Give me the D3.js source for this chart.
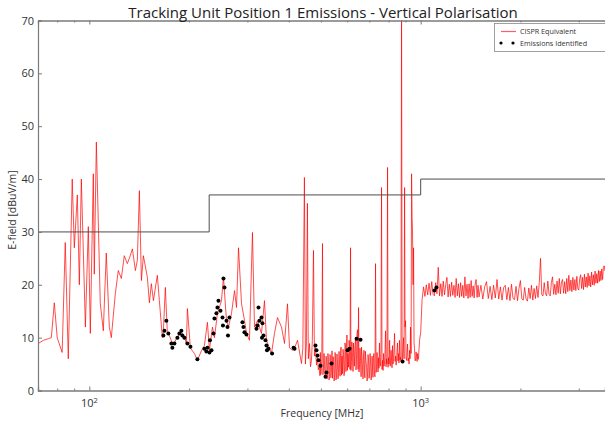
<!DOCTYPE html>
<html><head><meta charset="utf-8">
<script src="https://cdn.jsdelivr.net/npm/d3@7"></script>
<style>body{margin:0;background:#fff}svg{display:block}</style>
</head><body><svg id="c" width="605" height="425"></svg>
<script>
// ---- data ----
const titleText = "Tracking Unit Position 1 Emissions - Vertical Polarisation";
const xLabelText = "Frequency [MHz]";
const yLabelText = "E-field [dBuV/m]";
const legendLabels = ["CISPR Equivalent", "Emissions Identified"];

// sweep 70-491 MHz: frequency [MHz] / level [dBuV/m]
const lfFreq = [70.2,72.7,75.2,76.8,78.4,80.0,82.8,84.6,86.4,88.8,90.1,92.0,93.3,94.6,97.3,99.3,100.7,102.8,103.5,105.0,
  107.9,110.2,112.5,114.9,116.5,119.8,122.3,124.9,127.5,130.2,132.1,134.9,137.7,139.6,141.6,143.6,145.6,149.7,151.8,153.9,
  156.1,160.4,162.7,166.1,167.3,169.6,172.0,174.4,178.1,180.6,184.4,189.6,193.6,196.3,197.7,201.9,207.6,211.9,217.9,222.5,
  227.2,230.4,235.3,238.6,243.6,250.5,254.0,259.4,263.0,268.6,274.3,278.1,282.0,288.0,294.1,298.2,304.3,310.7,315.1,321.7,
  330.8,337.8,342.5,349.7,354.6,362.1,369.7,380.2,388.2,396.4,401.9,410.4,416.2,424.9,436.8,441,445.8,449.0,452,455.2,
  458,461.8,465,468.2,471,474.8,478,481.4,485,488.2,491];
const lfLevel = [8.9,9.5,9.8,10.0,16.6,10.0,7.2,28,6,40,27,37,20,40,12,31,10.8,41,22,47,
  16.5,11.3,26,12,10,18.3,22.7,21.2,25.5,24,25,26.8,22.7,24.6,37.8,20.8,25.5,21.4,16.6,20.2,
  17,21.8,17,10,11.3,19.5,10.8,10.4,8.9,9,10.2,11,10.2,8.9,15.5,8,7,5.7,7.5,8.5,
  12.9,7.6,12,10,14.6,17,21.4,13.2,12,14.6,18.9,15.7,27,16.4,13.2,10.8,9.5,29.9,12,13.2,
  10.8,17,9.5,8,7,10.8,13.8,12,8.9,16.4,8.1,7.6,8,9.5,5.1,8.0,40.3,5.0,9.0,35.4,
  6.0,8.9,4.5,5.7,9.5,26.5,6.5,8.1,4.8,6.2,3.9];

// sweep 495-993 MHz
const midFreq = [495.1,496.5,498,499.5,501,503,505.5,507,509,511,512.6,514,516,518,520,522,523.4,525,527,529,
  531,532.5,534,536,538.3,540,542,544,546,548,550,551.5,553,555,557.2,559,561,563,565,567,
  569.0,571,573,575,577,579,581.0,583,585,587,589,591,593,595,597.4,599,601,603,605.8,608,
  610,612,614.3,616,618,620,622.9,625,627,629,631,633.5,636.1,638,640,642.5,645,647,649.4,651.5,
  654,656,658.5,661,663,665.5,667.7,670,672,674.5,677,679,681,684,686.6,689,691,693.5,696,698.5,
  701.0,703.5,706,708.5,711,713.5,715.7,718,720,722.5,725,728,730.8,733.5,736,738.5,741.0,743.5,746.2,748.5,
  751,753.5,756,759,761.9,764.5,767.2,770,772.6,775,778,781,783.4,786,788,791,794.4,797,800.0,803,
  806,808.5,811,814,816.8,819.5,822,825,828,831,834.0,837,840,843,845.7,848.5,851,854,857.6,860,
  863,866,869,872,875.7,879,881.8,885,888,891,894.2,897,900.4,903.5,906.7,910,913,916,919,922.5,
  925.8,929,932,935.5,938.8,942,945,948.5,951.9,955,958,961.5,965.3,968.5,972,975.5,978.8,982,985,988.5,
  992.5];
const midLevel = [5.1,2.8,7.2,3.0,3.6,6.0,27.8,3.0,4.2,7.0,5.0,2.4,2.8,6.5,6.0,2.2,3.2,7.0,5.5,2.0,
  2.6,6.8,6.3,2.4,4.4,7.5,2.3,6.4,5.8,1.8,3.0,7.2,6.5,2.0,2.5,6.9,5.2,2.2,3.4,7.4,
  5.1,2.7,7.0,8.2,2.9,6.5,3.2,7.8,6.8,2.8,3.5,9.0,8.4,3.6,7.6,10.5,3.8,7.0,4.4,9.5,
  8.8,4.0,27,3.8,5.5,9.2,6.2,3.6,9.0,7.0,4.6,8.5,10,3.9,5.8,10.8,11.5,4.0,15.7,3.5,
  4.9,8.0,5.7,2.6,8.2,6.4,3.8,2.2,6.5,7.6,3.0,2.4,7.4,5.6,4.4,1.8,2.6,6.8,6.0,2.3,
  3.2,7.0,5.4,2.0,2.8,6.5,3.8,2.5,6.2,7.0,3.3,2.6,24,3.4,4.0,7.2,5.1,3.5,6.2,4.2,
  9.0,5.0,4.6,7.5,38.4,4.0,5.7,3.8,7,4.6,5.2,7.8,11.3,4.5,6.0,5.0,42.2,4.4,6.2,5.0,
  9.5,4.6,4.8,7.6,5.7,4.3,8.5,5.0,6.0,8.0,10.8,5.5,6.5,4.8,5.7,7.8,9.0,5.6,7,5.2,
  9.5,5.8,6.3,5.5,75,5.6,6.2,8.4,10.0,6.0,38.4,12,13.2,6.0,5.7,7.2,8.8,5.6,6.1,5.0,
  7.6,6.0,12.0,7.0,41,33,30,20,27,9.0,8.0,5.6,5.7,7.3,6.5,5.5,7,6.0,5.9,7.8,
  9.5];

// sweep above 1 GHz
const hfFreq = [1000,1010,1020,1030,1040,1050,1060,1070,1080,1090,1100,1110,1120,1130,1140,1150,1160,1170,1180,1190,
  1200,1210,1220,1230,1240,1250,1260,1270,1280,1290,1300,1310,1320,1330,1340,1350,1360,1370,1380,1390,
  1400,1410,1420,1430,1440,1450,1460,1470,1480,1490,1500,
  1520,1540,1560,1580,1600,1620,1640,1660,1680,1700,1720,1740,1760,1780,1800,1820,1840,1860,1880,1900,
  1920,1940,1960,1980,2000,2020,2040,2060,2080,2100,2120,2140,2160,2180,2200,2220,2240,2260,2280,2300,
  2320,2340,2360,2380,2400,2420,2440,2460,2480,2500,2520,2540,2560,2580,2600,2620,2640,2660,2680,2700,
  2720,2740,2760,2780,2800,2820,2840,2860,2880,2900,2920,2940,2960,2980,3000,3020,3040,3060,3080,3100,
  3120,3140,3160,3180,3200,3220,3240,3260,3280,3300,3320,3340,3360,3380,3400,3420,3440,3460,3480,3500,
  3520,3540,3560,3580,3600];
const hfLevel = [11.0,17.2,19.6,17.8,20.0,18.1,20.3,18.0,20.6,18.2,17.9,20.4,18.3,23.3,17.9,20.2,17.8,20.7,18.1,20.0,
  21.4,17.7,20.1,17.8,20.5,18.0,19.9,17.6,21.2,17.9,20.2,17.6,20.4,17.8,19.9,17.5,21.5,17.9,20.1,17.4,
  20.2,17.6,20.8,17.8,19.8,17.5,20.1,21.0,17.6,19.9,17.7,
  19.9,17.3,19.6,20.6,17.4,19.7,17.2,19.9,17.5,21.0,17.3,19.6,17.1,19.5,19.9,17.2,19.5,17.0,20.1,17.4,
  17.2,19.7,17.0,19.3,20.8,17.3,17.1,19.5,17.3,16.9,19.4,17.4,19.9,17.1,19.3,17.4,19.8,17.6,20.4,25.0,
  18.1,17.9,20.4,18.3,17.9,20.7,18.2,17.9,20.4,21.5,18.2,20.1,18.1,20.7,18.4,21.2,18.3,20.5,21.0,18.4,
  20.6,18.3,21.2,18.7,21.8,18.9,20.9,18.7,21.4,19.0,21.0,18.9,21.6,19.3,19.0,21.2,21.9,19.3,21.4,19.1,
  22.0,19.6,21.5,19.5,22.2,19.8,21.7,19.6,22.4,20.0,21.9,19.9,22.6,20.3,22.1,20.3,22.7,20.6,22.6,20.8,
  23.0,21.0,23.3,23.6,22.6];

// emissions identified (markers)
const emissionFreq = [167.3,168.5,170.8,173.2,176.9,178.1,180.6,184.4,187.0,189.6,190.9,193.6,197.7,201.9,211.9,222.5,225.6,227.2,230.4,233.7,
  231.2,237.0,238.6,241.9,243.6,245.3,248.8,252.3,253.1,254.0,255.8,259.4,261.2,262.1,264.8,289.8,291.8,293.9,298.0,319.5,
  321.7,324.0,326.2,330.8,333.1,332.0,335.4,340.1,342.5,343.7,347.3,356.1,413.3,416.2,481.4,484.8,488.2,491.6,498.5,516.2,
  519.8,538.3,601.6,610.0,640.5,658.5,881.8,1100,1116];
const emissionLevel = [10.4,11.3,13.2,10.8,8.9,8.1,8.9,10.0,10.8,11.3,10.4,10.0,8.9,8.3,5.9,7.9,7.4,8.1,7.2,7.6,
  9.5,10.8,13.6,14.6,15.7,17.0,15.1,13.8,12.3,21.2,19.5,13.2,12.0,10.4,13.8,12.9,12.0,11.0,10.6,11.7,
  12.3,15.7,13.2,13.8,12.7,10.0,10.4,9.5,8.5,7.6,7.9,7.0,8.1,7.9,8.5,7.6,6.6,5.7,4.7,2.6,
  3.4,5.1,7.6,7.9,9.8,9.6,5.5,18.9,19.5];

// limit line (step)
const limitFreq = [70,230,230,1000,1000,3600];
const limitLevel = [30,30,37,37,40,40];

const yTicks = [0,10,20,30,40,50,60,70];
const xMajorTicks = [100,1000];
const xMinorTicks = [70,80,90,200,300,400,500,600,700,800,900,2000,3000];

// ---- drawing ----
const svg = d3.select("#c");
const m = {l:38, r:0, t:20.5, b:34.5};
const W = 605, H = 425;
const x = d3.scaleLog().domain([70,3600]).range([m.l, W - m.r]);
const y = d3.scaleLinear().domain([0,70]).range([H - m.b, m.t]);
const font = "'Open Sans', 'DejaVu Sans', sans-serif";

svg.append("rect").attr("width",W).attr("height",H).attr("fill","#fff");
svg.append("defs").append("clipPath").attr("id","clip")
  .append("rect").attr("x",m.l).attr("y",m.t).attr("width",W-m.r-m.l).attr("height",H-m.b-m.t);

const plot = svg.append("g").attr("clip-path","url(#clip)");

const traceF = lfFreq.concat(midFreq, hfFreq), traceL = lfLevel.concat(midLevel, hfLevel);
const trace = traceF.map((f,i)=>[f,traceL[i]]);
const line = d3.line().x(d=>x(d[0])).y(d=>y(d[1]));
plot.append("path").datum(trace).attr("d",line)
  .attr("fill","none").attr("stroke","#ff0000").attr("stroke-width",0.7).attr("stroke-linejoin","miter");

const limit = limitFreq.map((f,i)=>[f,limitLevel[i]]);
plot.append("path").datum(limit).attr("d",line)
  .attr("fill","none").attr("stroke","#4d4d4d").attr("stroke-width",1);

plot.selectAll("circle.em").data(emissionFreq.map((f,i)=>[f,emissionLevel[i]])).enter()
  .append("circle").attr("class","em").attr("cx",d=>x(d[0])).attr("cy",d=>y(d[1])).attr("r",2).attr("fill","#000");

// axes frame
const axCol = "#7a7a7a";
const xAxisB = d3.axisBottom(x).tickValues(xMajorTicks).tickSize(-4).tickFormat("");
const xAxisBm = d3.axisBottom(x).tickValues(xMinorTicks).tickSize(-2).tickFormat("");
const xAxisT = d3.axisTop(x).tickValues(xMajorTicks).tickSize(-4).tickFormat("");
const xAxisTm = d3.axisTop(x).tickValues(xMinorTicks).tickSize(-2).tickFormat("");
const yAxisL = d3.axisLeft(y).tickValues(yTicks).tickSize(-4).tickFormat("");

function styleAx(g){ g.select(".domain").attr("stroke",axCol).attr("stroke-width",1.2); g.selectAll(".tick line").attr("stroke",axCol); }
svg.append("g").attr("transform",`translate(0,${H-m.b})`).call(xAxisB).call(styleAx);
svg.append("g").attr("transform",`translate(0,${H-m.b})`).call(xAxisBm).call(styleAx);
svg.append("g").attr("transform",`translate(0,${m.t})`).call(xAxisT).call(styleAx);
svg.append("g").attr("transform",`translate(0,${m.t})`).call(xAxisTm).call(styleAx);
svg.append("g").attr("transform",`translate(${m.l},0)`).call(yAxisL).call(styleAx);

// tick labels
const txtCol = "#333";
svg.append("g").selectAll("text").data(yTicks).enter().append("text")
  .attr("x",m.l-4).attr("y",d=>y(d)+4).attr("text-anchor","end")
  .attr("font-family",font).attr("font-size",11).attr("fill",txtCol).text(d=>d);
const xl = svg.append("g").selectAll("text").data(xMajorTicks).enter().append("text")
  .attr("x",d=>x(d)).attr("y",H-m.b+16).attr("text-anchor","middle")
  .attr("font-family",font).attr("font-size",11).attr("fill",txtCol);
xl.append("tspan").text("10");
xl.append("tspan").attr("dy",-4).attr("font-size",7.5).text(d=>Math.round(Math.log10(d)));

// titles
svg.append("text").attr("x",323).attr("y",18).attr("text-anchor","middle")
  .attr("font-family",font).attr("font-size",15).attr("fill","#222").text(titleText);
svg.append("text").attr("x",322).attr("y",417).attr("text-anchor","middle")
  .attr("font-family",font).attr("font-size",10.5).attr("fill",txtCol).text(xLabelText);
svg.append("text").attr("transform","translate(16,210) rotate(-90)").attr("text-anchor","middle")
  .attr("font-family",font).attr("font-size",10.5).attr("fill",txtCol).text(yLabelText);

// legend
const lg = svg.append("g");
lg.append("rect").attr("x",494.5).attr("y",23.5).attr("width",112).attr("height",28)
  .attr("fill","#fff").attr("stroke","#888").attr("stroke-width",0.8);
lg.append("line").attr("x1",501).attr("x2",516).attr("y1",31.5).attr("y2",31.5).attr("stroke","#ff5a6e").attr("stroke-width",1.2);
[501,513].forEach(cx=>lg.append("circle").attr("cx",cx).attr("cy",43).attr("r",1.6).attr("fill","#000"));
lg.append("text").attr("x",520).attr("y",34).attr("font-family",font).attr("font-size",7.2).attr("fill",txtCol).text(legendLabels[0]);
lg.append("text").attr("x",520).attr("y",46).attr("font-family",font).attr("font-size",7.2).attr("fill",txtCol).text(legendLabels[1]);
</script></body></html>
